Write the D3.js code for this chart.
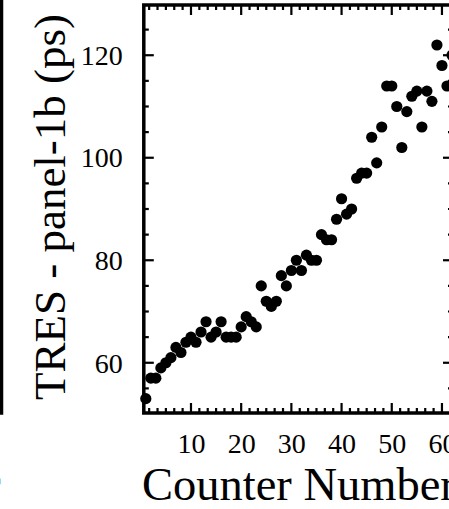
<!DOCTYPE html>
<html>
<head>
<meta charset="utf-8">
<script src="https://cdn.jsdelivr.net/npm/d3@7/dist/d3.min.js"></script>
<style>
  html, body { margin: 0; padding: 0; background: #fff; }
  svg { display: block; }
  svg text { font-family: "Liberation Serif", "DejaVu Serif", "Times New Roman", Times, serif !important; fill: #000; }
</style>
</head>
<body>
<svg id="chart" width="449" height="509"></svg>
<script>
// ---- data ----
const counters = [1,2,3,4,5,6,7,8,9,10,11,12,13,14,15,16,17,18,19,20,21,22,23,24,25,26,27,28,29,30,31,32,33,34,35,36,37,38,39,40,41,42,43,44,45,46,47,48,49,50,51,52,53,54,55,56,57,58,59,60,61,62];
const tres = [53,57,57,59,60,61,63,62,64,65,64,66,68,65,66,68,65,65,65,67,69,68,67,75,72,71,72,77,75,78,80,78,81,80,80,85,84,84,88,92,89,90,96,97,97,104,99,106,114,114,110,102,109,112,113,106,113,111,122,118,114,120];
const xTickValues = [10,20,30,40,50,60];
const yTickValues = [60,80,100,120];
const xTitle = "Counter Number";
const yTitle = "TRES - panel-1b (ps)";

// ---- layout ----
const FONT = "'Liberation Serif', 'DejaVu Serif', 'Times New Roman', serif";
const svg = d3.select("#chart");
const L = 143.8, R = 453, T = 5, B = 413;
const x = d3.scaleLinear().domain([0.6, 62.2]).range([L, R]);
const y = d3.scaleLinear().domain([50.2, 129.8]).range([B, T]);

const majLen = 10, minLen = 5;
const g = svg.append("g");

// minor ticks
const xMinor = d3.range(0, 63, 10/6).filter(v => v > 0.7 && v < 62.1 && Math.abs(v/10 - Math.round(v/10)) > 1e-6);
const yMinor = d3.range(55, 130, 5).filter(v => v % 20 !== 0);

function tickLines(vals, len, axis) {
  vals.forEach(v => {
    if (axis === "x") {
      g.append("line").attr("x1", x(v)).attr("x2", x(v)).attr("y1", B).attr("y2", B - len)
        .attr("stroke", "#000").attr("stroke-width", 2.2);
      g.append("line").attr("x1", x(v)).attr("x2", x(v)).attr("y1", T).attr("y2", T + len)
        .attr("stroke", "#000").attr("stroke-width", 2.2);
    } else {
      g.append("line").attr("y1", y(v)).attr("y2", y(v)).attr("x1", L).attr("x2", L + len)
        .attr("stroke", "#000").attr("stroke-width", 2.2);
      g.append("line").attr("y1", y(v)).attr("y2", y(v)).attr("x1", R).attr("x2", R - len)
        .attr("stroke", "#000").attr("stroke-width", 2.2);
    }
  });
}
tickLines(xMinor, minLen, "x");
tickLines(xTickValues, majLen, "x");
tickLines(yMinor, minLen, "y");
tickLines(yTickValues, majLen, "y");

// frame
g.append("rect").attr("x", L).attr("y", T).attr("width", R - L).attr("height", B - T)
  .attr("fill", "none").attr("stroke", "#000").attr("stroke-width", 3.5);

// edge of neighbouring panel (left)
g.append("path").attr("d", `M-10,${B} H1.5 V0`).attr("fill", "none")
  .attr("stroke", "#000").attr("stroke-width", 3.5);
svg.append("text").attr("x", 0.5).attr("y", 500).attr("text-anchor", "end")
  .attr("font-size", 46.5).attr("font-family", FONT).text(xTitle);

// tick labels via d3 axes (lines hidden)
const xAxis = svg.append("g").attr("transform", `translate(0,${B})`)
  .call(d3.axisBottom(x).tickValues(xTickValues).tickSize(0).tickPadding(0).tickFormat(d3.format("d")));
xAxis.attr("font-family", FONT).attr("font-size", 28);
xAxis.select(".domain").remove();
xAxis.selectAll("text").attr("font-size", 28).attr("font-family", FONT).attr("dy", null).attr("y", 40);

const yAxis = svg.append("g").attr("transform", `translate(${L},0)`)
  .call(d3.axisLeft(y).tickValues(yTickValues).tickSize(0).tickPadding(0).tickFormat(d3.format("d")));
yAxis.attr("font-family", FONT).attr("font-size", 28);
yAxis.select(".domain").remove();
yAxis.selectAll("text").attr("font-size", 28).attr("font-family", FONT).attr("x", -21).attr("dy", "0.33em");

// points
svg.append("g").selectAll("circle").data(counters).join("circle")
  .attr("cx", (d) => x(d)).attr("cy", (d, i) => y(tres[i])).attr("r", 5.6).attr("fill", "#000");

// titles
svg.append("text").attr("x", 142).attr("y", 500).attr("font-size", 46.5).attr("font-family", FONT).text(xTitle);
svg.append("text").attr("transform", `translate(65,207) rotate(-90)`).attr("text-anchor", "middle")
  .attr("font-size", 45).attr("font-family", FONT).text(yTitle);
</script>
</body>
</html>
